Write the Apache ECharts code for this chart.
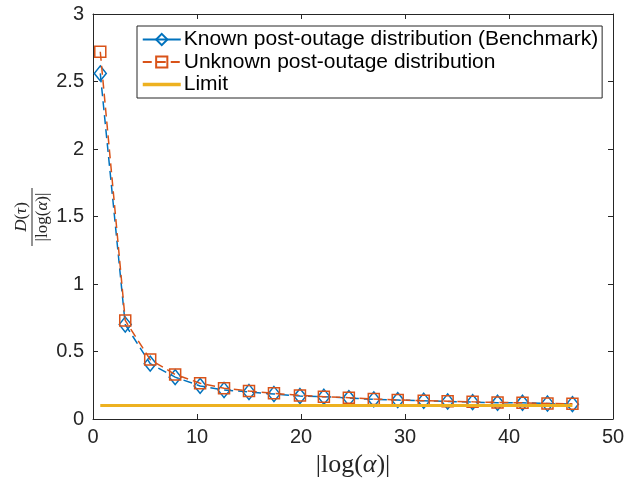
<!DOCTYPE html>
<html>
<head>
<meta charset="utf-8">
<script src="https://cdn.jsdelivr.net/npm/echarts@6/dist/echarts.min.js"></script>
<style>
  html, body { margin: 0; padding: 0; background: #fff; }
  #chart { width: 644px; height: 480px; }
</style>
</head>
<body>
<div id="chart"></div>
<script>
// |log(alpha)| sample points
const logAlpha = [0.7, 3.1, 5.5, 7.9, 10.3, 12.6, 15.0, 17.4, 19.9, 22.2, 24.6, 27.0, 29.3, 31.8, 34.1, 36.5, 38.9, 41.3, 43.7, 46.1];
// D(tau)/|log(alpha)| with the post-outage distribution known
const knownDist = [2.56, 0.70, 0.41, 0.31, 0.245, 0.215, 0.20, 0.185, 0.17, 0.165, 0.155, 0.145, 0.14, 0.135, 0.13, 0.125, 0.12, 0.12, 0.115, 0.11];
// D(tau)/|log(alpha)| with the post-outage distribution unknown
const unknownDist = [2.72, 0.73, 0.44, 0.33, 0.265, 0.228, 0.207, 0.19, 0.175, 0.165, 0.158, 0.148, 0.141, 0.136, 0.132, 0.127, 0.123, 0.12, 0.115, 0.113];
// asymptotic limit
const limitValue = 0.1;
const xTicks = [0, 10, 20, 30, 40, 50];
const yTicks = [0, 0.5, 1, 1.5, 2, 2.5, 3];

const seriesNames = [
  'Known post-outage distribution (Benchmark)',
  'Unknown post-outage distribution',
  'Limit'
];

const AXIS_COLOR = '#262626';
const SANS = '"Liberation Sans", Arial, Helvetica, sans-serif';
const SERIF = '"Liberation Serif", "DejaVu Serif", serif';

const pairs = (xs, ys) => xs.map((x, i) => [x, ys[i]]);

const baseAxis = {
  axisLine: { show: true, onZero: false, lineStyle: { color: AXIS_COLOR, width: 1 } },
  axisTick: { show: true, inside: true, length: 5, lineStyle: { color: AXIS_COLOR, width: 1 } },
  splitLine: { show: false },
};

const chart = echarts.init(document.getElementById('chart'), null, { renderer: 'canvas' });

chart.setOption({
  animation: false,
  backgroundColor: '#fff',
  grid: { left: 93, right: 31, top: 14, bottom: 61 },
  xAxis: [
    Object.assign({}, baseAxis, {
      type: 'value', position: 'bottom',
      min: xTicks[0], max: xTicks[xTicks.length - 1], interval: xTicks[1] - xTicks[0],
      axisLabel: { color: AXIS_COLOR, fontSize: 20, fontFamily: SANS, margin: 8 }
    }),
    Object.assign({}, baseAxis, {
      type: 'value', position: 'top',
      min: xTicks[0], max: xTicks[xTicks.length - 1], interval: xTicks[1] - xTicks[0],
      axisLabel: { show: false }
    })
  ],
  yAxis: [
    Object.assign({}, baseAxis, {
      type: 'value', position: 'left',
      min: yTicks[0], max: yTicks[yTicks.length - 1], interval: yTicks[1] - yTicks[0],
      axisLabel: { color: AXIS_COLOR, fontSize: 20, fontFamily: SANS, margin: 9 }
    }),
    Object.assign({}, baseAxis, {
      type: 'value', position: 'right',
      min: yTicks[0], max: yTicks[yTicks.length - 1], interval: yTicks[1] - yTicks[0],
      axisLabel: { show: false }
    })
  ],
  legend: {
    orient: 'vertical',
    left: 137, top: 26,
    backgroundColor: '#fff',
    borderColor: AXIS_COLOR, borderWidth: 1, borderRadius: 0,
    padding: [3, 4, 3, 4],
    itemGap: 1.5,
    itemWidth: 38, itemHeight: 14,
    textStyle: { fontSize: 21, lineHeight: 21, color: '#000', fontFamily: SANS, padding: [0, 0, 0, -2] },
    data: [
      { name: seriesNames[0], lineStyle: { type: 'solid' } },
      { name: seriesNames[1] },
      { name: seriesNames[2], itemStyle: { opacity: 0 }, lineStyle: { width: 3.5 } }
    ]
  },
  series: [
    {
      name: seriesNames[0], type: 'line',
      data: pairs(logAlpha, knownDist),
      symbol: 'diamond', symbolSize: [12, 15],
      lineStyle: { color: '#0072BD', width: 1.5, type: [9, 5] },
      itemStyle: { color: 'rgba(0,0,0,0)', borderColor: '#0072BD', borderWidth: 1.5 },
      z: 2
    },
    {
      name: seriesNames[1], type: 'line',
      data: pairs(logAlpha, unknownDist),
      symbol: 'rect', symbolSize: 11,
      lineStyle: { color: '#D95319', width: 1.5, type: [9, 5] },
      itemStyle: { color: 'rgba(0,0,0,0)', borderColor: '#D95319', borderWidth: 1.5 },
      z: 3
    },
    {
      name: seriesNames[2], type: 'line',
      data: logAlpha.map(x => [x, limitValue]),
      symbol: 'none',
      lineStyle: { color: '#EDB120', width: 3, type: 'solid' },
      itemStyle: { color: '#EDB120' },
      z: 4
    }
  ],
  graphic: [
    {
      // x-axis title: |log(alpha)|
      type: 'text',
      x: 353, y: 465,
      style: {
        text: '|log({i|α})|',
        font: '26px ' + SERIF,
        fill: AXIS_COLOR,
        align: 'center', verticalAlign: 'middle',
        rich: { i: { fontStyle: 'italic', fontSize: 26, fontFamily: SERIF, fill: AXIS_COLOR } }
      }
    },
    {
      // y-axis title: D(tau) / |log(alpha)| as a rotated fraction
      type: 'group',
      x: 32, y: 217,
      rotation: Math.PI / 2,
      children: [
        {
          type: 'text', x: 0, y: -2,
          style: {
            text: '{i|D}({i|τ})',
            font: '17px ' + SERIF, fill: AXIS_COLOR,
            align: 'center', verticalAlign: 'bottom',
            rich: { i: { fontStyle: 'italic', fontSize: 17, fontFamily: SERIF } }
          }
        },
        {
          type: 'line',
          shape: { x1: -29, y1: 0, x2: 29, y2: 0 },
          style: { stroke: AXIS_COLOR, lineWidth: 1 }
        },
        {
          type: 'text', x: 0, y: 2,
          style: {
            text: '|log({i|α})|',
            font: '17px ' + SERIF, fill: AXIS_COLOR,
            align: 'center', verticalAlign: 'top',
            rich: { i: { fontStyle: 'italic', fontSize: 17, fontFamily: SERIF } }
          }
        }
      ]
    }
  ]
});
</script>
</body>
</html>
